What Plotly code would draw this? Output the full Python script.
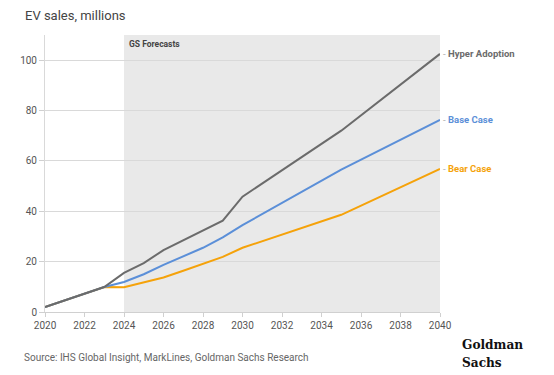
import plotly.graph_objects as go

years = [2020, 2021, 2022, 2023, 2024, 2025, 2026, 2027, 2028, 2029, 2030, 2035, 2040]
hyper = [2.0, 4.6, 7.2, 9.9, 15.5, 19.4, 24.6, 28.6, 32.5, 36.3, 45.8, 72.0, 102.5]
base = [2.0, 4.6, 7.2, 9.9, 11.9, 15.0, 18.7, 22.0, 25.5, 29.6, 34.5, 56.5, 76.3]
bear = [2.0, 4.6, 7.2, 9.9, 9.8, 11.7, 13.7, 16.4, 19.3, 21.9, 25.5, 38.6, 56.8]

series_names = ["Hyper Adoption", "Base Case", "Bear Case"]
series_vals = [hyper, base, bear]
series_colors = ["#6b6b6b", "#5b8fd8", "#f5a20a"]

forecast_start = 2024
x_ticks = list(range(2020, 2041, 2))
y_ticks = [0, 20, 40, 60, 80, 100]

fig = go.Figure()
for name, vals, col in reversed(list(zip(series_names, series_vals, series_colors))):
    fig.add_trace(go.Scatter(x=years, y=vals, mode="lines", name=name,
                             line=dict(color=col, width=2), showlegend=False))

fig.add_shape(type="rect", xref="x", yref="y", x0=forecast_start, x1=2040, y0=0, y1=110,
              fillcolor="#e9e9e9", line=dict(width=0), layer="below")

fig.add_annotation(x=forecast_start, y=110, xref="x", yref="y", text="<b>GS Forecasts</b>",
                   showarrow=False, xanchor="left", yanchor="top", xshift=3, yshift=-2,
                   font=dict(family="Roboto, Arial", size=8.5, color="#444"))

for name, vals, col in zip(series_names, series_vals, series_colors):
    fig.add_annotation(x=years[-1], y=vals[-1], xref="x", yref="y",
                       text="<span style='color:#aaaaaa'>-</span> <b>" + name + "</b>",
                       showarrow=False, xanchor="left", yanchor="middle", xshift=1,
                       font=dict(family="Roboto, Arial", size=9.5, color=col))

fig.add_annotation(x=0, y=1, xref="paper", yref="paper", xanchor="left", yanchor="middle",
                   text="EV sales, millions", showarrow=False, xshift=-22, yshift=20,
                   font=dict(family="Roboto, Arial", size=13, color="#444"))

fig.add_annotation(x=0, y=0, xref="paper", yref="paper", xanchor="left", yanchor="middle",
                   text="Source: IHS Global Insight, MarkLines, Goldman Sachs Research",
                   showarrow=False, xshift=-23, yshift=-45,
                   font=dict(family="Roboto, Arial", size=10, color="#666"))

logo_font = dict(family="DejaVu Serif Condensed, Liberation Serif, serif", size=13.5, color="#111")
fig.add_annotation(x=1, y=0, xref="paper", yref="paper", xanchor="left", yanchor="middle",
                   text="<b>Goldman<br>Sachs</b>", showarrow=False, xshift=21, yshift=-41,
                   align="left", borderpad=0, font=logo_font)

fig.update_layout(
    width=546, height=367,
    margin=dict(l=34, r=114, t=27, b=63),
    plot_bgcolor="white", paper_bgcolor="white",
    font=dict(family="Roboto, Arial", size=10, color="#555"),
)
fig.update_xaxes(range=[2020, 2040], tickvals=x_ticks, ticktext=[str(t) for t in x_ticks],
                 showgrid=False, showline=True, linecolor="#d0d0d0", linewidth=1,
                 ticks="outside", ticklen=4, tickcolor="#d0d0d0", zeroline=False,
                 tickfont=dict(size=10, color="#555"))
fig.update_yaxes(range=[0, 110], tickvals=y_ticks, showgrid=True, gridcolor="#d9d9d9",
                 gridwidth=1, showline=True, linecolor="#d9d9d9", ticks="outside",
                 ticklen=5, tickcolor="#d0d0d0", zeroline=False,
                 tickfont=dict(size=10, color="#555"))

fig.write_html("out.html")
